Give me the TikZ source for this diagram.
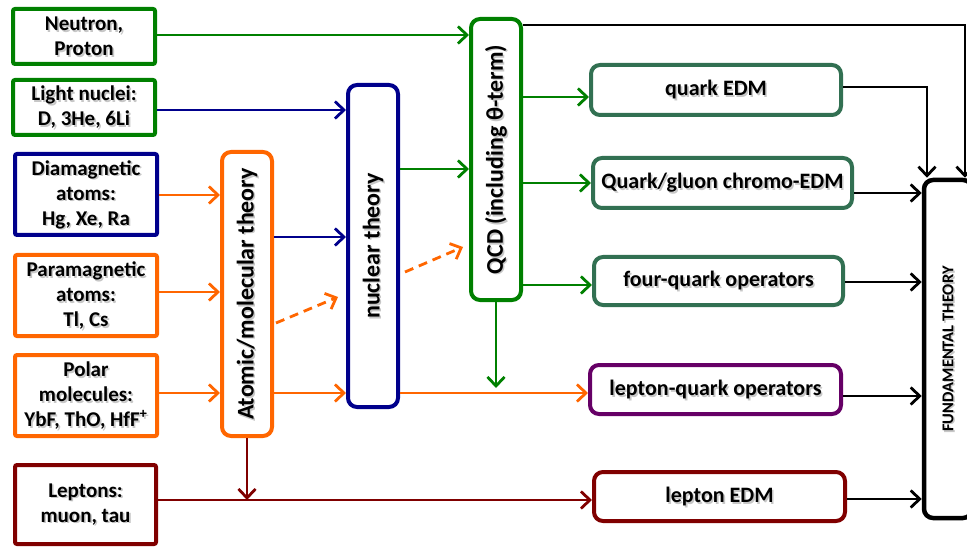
\documentclass[tikz,border=0pt]{standalone}
\usepackage{fontspec}
\setmainfont{Carlito}
\usetikzlibrary{arrows.meta}
\definecolor{cgreen}{RGB}{0,128,0}
\definecolor{cblue}{RGB}{0,0,140}
\definecolor{corange}{RGB}{255,102,0}
\definecolor{cteal}{RGB}{50,112,82}
\definecolor{cred}{RGB}{128,0,0}
\definecolor{cpurple}{RGB}{102,0,102}

% text with a soft drop shadow: name, position, style, text
\newcommand\shadowlabel[4]{%
  \node[#3, text=black!22] (#1-shadow) at ([xshift=1.6pt,yshift=-1.6pt]#2) {#4};
  \node[#3] (#1-text) at (#2) {#4};}

\begin{document}
\begin{tikzpicture}[x=1pt,y=-1pt,
  srctext/.style={align=center, inner sep=0pt, font=\bfseries\fontsize{21}{25}\selectfont},
  srcbox/.style={draw, line width=4pt, rounded corners=2pt, inner sep=0pt},
  theorybox/.style={draw, line width=4pt, rounded corners=9pt, inner sep=0pt, minimum width=50pt},
  theorytext/.style={rotate=90, inner sep=0pt, font=\bfseries\fontsize{24}{28}\selectfont},
  opbox/.style={draw, line width=4pt, rounded corners=9pt, inner sep=0pt, minimum height=49pt},
  optext/.style={inner sep=0pt, font=\bfseries\fontsize{22}{26}\selectfont},
  fttext/.style={rotate=90, inner sep=0pt, font=\bfseries\fontsize{16.5}{20}\selectfont},
  link/.style={line width=2.8pt, -{Straight Barb[length=9pt,width=17pt,line width=2.8pt]}},
  dashlink/.style={link, dash pattern=on 9pt off 6pt},
]
\useasboundingbox (0,0) rectangle (967,548);

% experimental inputs
\node[srcbox, draw=cgreen, minimum width=142pt, minimum height=55pt] (np) at (84,36.5) {};
\node[srcbox, draw=cgreen, minimum width=142pt, minimum height=55pt] (ln) at (84,107.5) {};
\node[srcbox, draw=cblue, minimum width=142pt, minimum height=81pt] (dia) at (86,194.5) {};
\node[srcbox, draw=corange, minimum width=142pt, minimum height=81pt] (para) at (86,295.5) {};
\node[srcbox, draw=corange, minimum width=142pt, minimum height=81pt] (polar) at (86,395.5) {};
\node[srcbox, draw=cred, minimum width=141pt, minimum height=79pt] (lep) at (85.5,504.5) {};
\shadowlabel{np}{np}{srctext}{Neutron,\\Proton}
\shadowlabel{ln}{ln}{srctext}{Light nuclei:\\D, 3He, 6Li}
\shadowlabel{dia}{dia}{srctext}{Diamagnetic\\atoms:\\Hg, Xe, Ra}
\shadowlabel{para}{para}{srctext}{Paramagnetic\\atoms:\\Tl, Cs}
\shadowlabel{polar}{polar}{srctext}{Polar\\molecules:\\YbF, ThO, HfF\textsuperscript{+}}
\shadowlabel{lep}{lep}{srctext}{Leptons:\\muon, tau}

% theory layers
\node[theorybox, draw=corange, minimum height=284pt] (atomic) at (247,294) {};
\node[theorybox, draw=cblue, minimum height=322pt] (nuclear) at (373,246) {};
\node[theorybox, draw=cgreen, minimum height=281pt] (qcd) at (496,159.5) {};
\shadowlabel{atomic}{atomic}{theorytext}{Atomic/molecular theory}
\shadowlabel{nuclear}{nuclear}{theorytext}{nuclear theory}
\shadowlabel{qcd}{qcd}{theorytext}{QCD (including θ-term)}

% effective operators
\node[opbox, draw=cteal, minimum width=250pt, minimum height=50pt] (qedm) at (716,90) {};
\node[opbox, draw=cteal, minimum width=259pt, minimum height=50pt] (chromo) at (722.5,183) {};
\node[opbox, draw=cteal, minimum width=249pt, minimum height=48pt] (fourq) at (718.5,281) {};
\node[opbox, draw=cpurple, minimum width=251pt] (lq) at (715.5,389.5) {};
\node[opbox, draw=cred, minimum width=251pt] (ledm) at (719.5,496.5) {};
\shadowlabel{qedm}{qedm}{optext}{quark EDM}
\shadowlabel{chromo}{chromo}{optext}{Quark/gluon chromo-EDM}
\shadowlabel{fourq}{fourq}{optext}{four-quark operators}
\shadowlabel{lq}{lq}{optext}{lepton-quark operators}
\shadowlabel{ledm}{ledm}{optext}{lepton EDM}

% fundamental theory
\node[draw, line width=4.5pt, rounded corners=9pt, inner sep=0pt, minimum width=48pt, minimum height=338pt] (ft) at (948,349) {};
\shadowlabel{ft}{ft}{fttext}{FUNDAMENTAL THEORY}

% inputs to theory
\draw[link, cgreen] (np.east |- 0,35) -- (qcd.west |- 0,35);
\draw[link, cblue] (ln.east |- 0,110) -- (nuclear.west |- 0,110);
\draw[link, corange] (dia.east |- 0,195) -- (atomic.west |- 0,195);
\draw[link, corange] (para.east |- 0,292) -- (atomic.west |- 0,292);
\draw[link, corange] (polar.east |- 0,393) -- (atomic.west |- 0,393);
\draw[link, cred] (lep.east |- 0,500) -- (ledm.west |- 0,500);
\draw[link, cred] (atomic.south) -- (atomic.south |- 0,500);

% atomic to nuclear
\draw[link, cblue] (atomic.east |- 0,237) -- (nuclear.west |- 0,237);
\draw[link, corange] (atomic.east |- 0,393) -- (nuclear.west |- 0,393);
\coordinate (dashA-start) at (276,323);
\coordinate (dashA-end) at (338,297);
\draw[dashlink, corange] (dashA-start) -- (dashA-end);

% nuclear to QCD and operators
\draw[link, cgreen] (nuclear.east |- 0,169) -- (qcd.west |- 0,169);
\coordinate (dashB-start) at (405,272);
\coordinate (dashB-end) at (463,247);
\draw[dashlink, corange] (dashB-start) -- (dashB-end);
\draw[link, corange] (nuclear.east |- 0,393) -- (lq.west |- 0,393);
\draw[link, cgreen] (qcd.south) -- (qcd.south |- 0,388);

% QCD to operators
\draw[link, cgreen] (qcd.east |- 0,97) -- (qedm.west |- 0,97);
\draw[link, cgreen] (qcd.east |- 0,183) -- (chromo.west |- 0,183);
\draw[link, cgreen] (qcd.east |- 0,285) -- (fourq.west |- 0,285);

% operators to fundamental theory
\draw[link, black] (qcd.east |- 0,25) -| ([xshift=17pt]ft.north);
\draw[link, black] (qedm.east |- 0,87) -| ([xshift=-21pt]ft.north);
\draw[link, black] (chromo.east |- 0,193) -- (ft.west |- 0,193);
\draw[link, black] (fourq.east |- 0,282) -- (ft.west |- 0,282);
\draw[link, black] (lq.east |- 0,396) -- (ft.west |- 0,396);
\draw[link, black] (ledm.east |- 0,499) -- (ft.west |- 0,499);
\end{tikzpicture}
\end{document}
